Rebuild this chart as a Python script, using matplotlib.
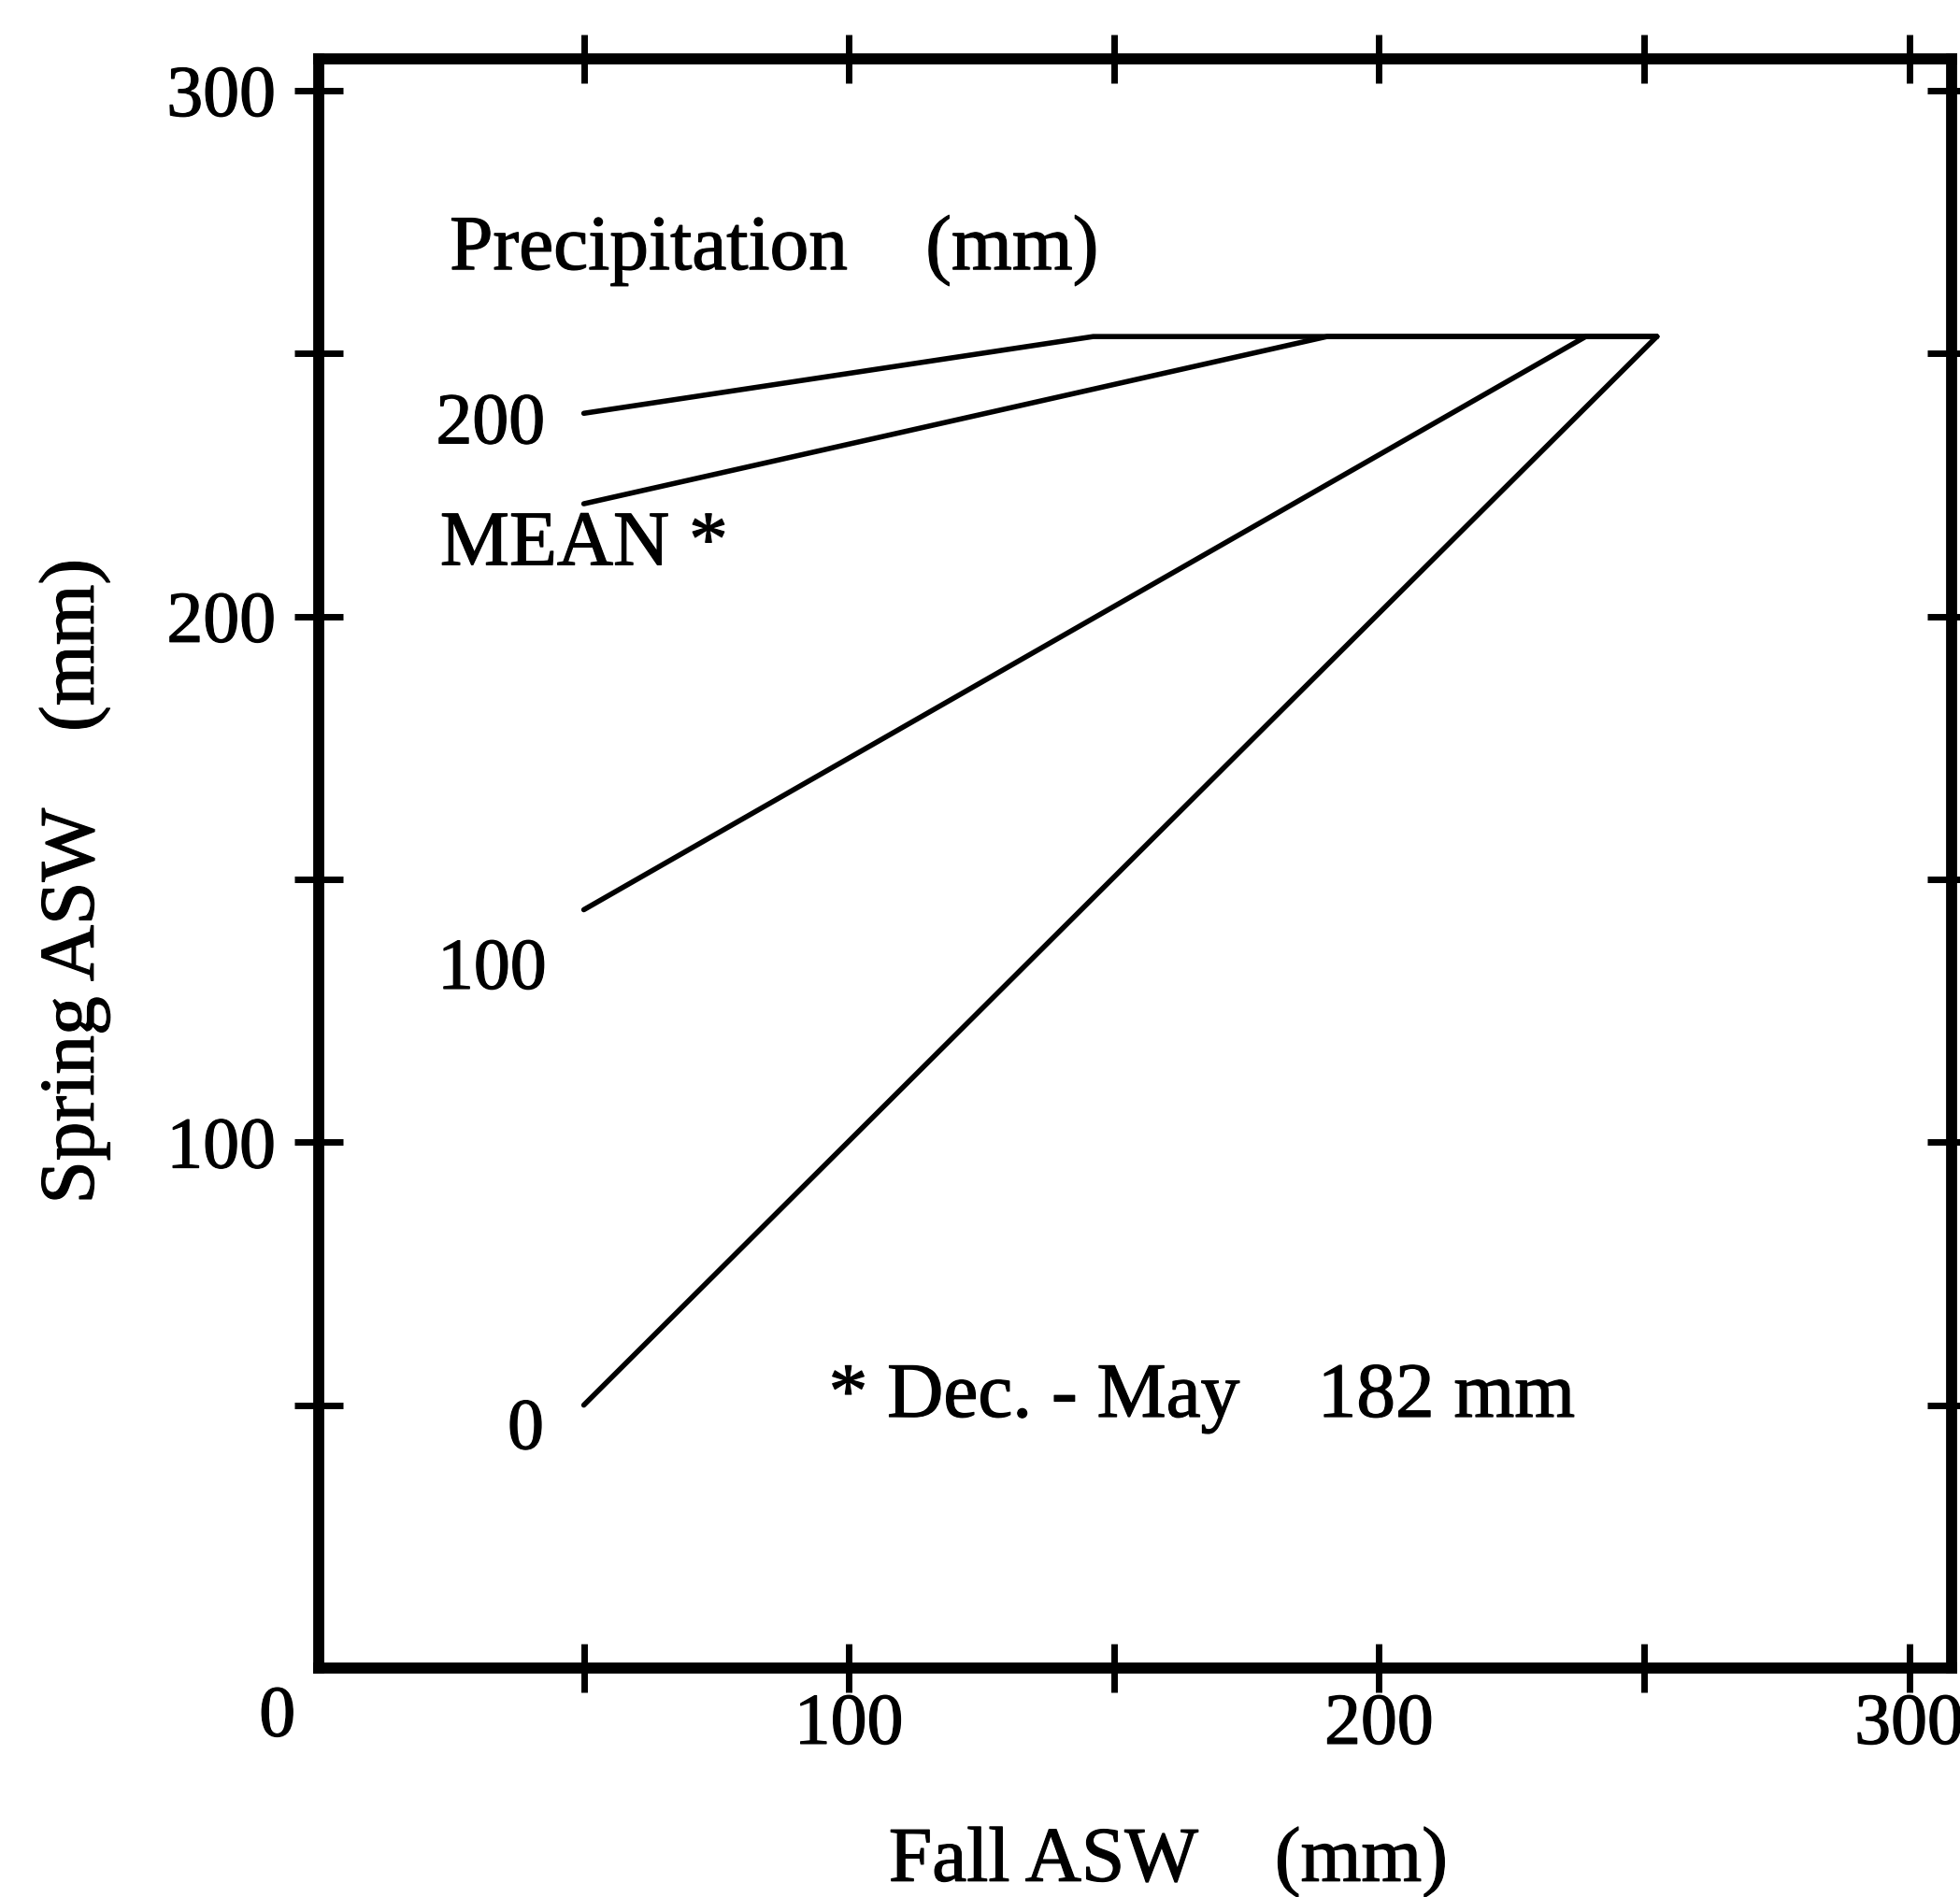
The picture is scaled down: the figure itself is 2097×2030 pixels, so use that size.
import matplotlib
matplotlib.use("Agg")
import matplotlib.pyplot as plt
import matplotlib.transforms as mtransforms
import matplotlib.patheffects as pe

plt.rcParams['font.family'] = ['Liberation Serif', 'DejaVu Serif']

# ---- data ----
series_names = ["0", "100", "MEAN *", "200"]
line_0_x = [50, 252.4]
line_0_y = [50, 253.2]
line_100_x = [50, 239.0, 252.4]
line_100_y = [144.2, 253.2, 253.2]
line_mean_x = [50, 190.2, 252.4]
line_mean_y = [221.4, 253.2, 253.2]
line_200_x = [50, 146.1, 252.4]
line_200_y = [238.6, 253.2, 253.2]

x_ticks = [50, 100, 150, 200, 250, 300]
x_ticklabels = ["", "100", "", "200", "", "300"]
y_ticks = [50, 100, 150, 200, 250, 300]
y_ticklabels = ["", "100", "", "200", "", "300"]

W, H = 2097, 2030
fig = plt.figure(figsize=(W / 100, H / 100), dpi=100)
left, right, top, bottom = 341, 2088, 63, 1785
ax = fig.add_axes([left / W, 1 - bottom / H, (right - left) / W, (bottom - top) / H])
ax.set_xlim(0, 308)
ax.set_ylim(0, 306)

bold = [pe.withStroke(linewidth=0.9, foreground="black")]

lw = 4.0
for xs, ys in [(line_0_x, line_0_y), (line_100_x, line_100_y),
               (line_mean_x, line_mean_y), (line_200_x, line_200_y)]:
    ax.plot(xs, ys, color="black", lw=lw, solid_capstyle="round",
            solid_joinstyle="miter", clip_on=False)

for s in ax.spines.values():
    s.set_linewidth(8.5)
    s.set_color("black")

ax.set_xticks(x_ticks)
ax.set_xticklabels(x_ticklabels)
ax.set_yticks(y_ticks)
ax.set_yticklabels(y_ticklabels)
ax.tick_params(direction="inout", length=38, width=5, top=True, right=True,
               labelsize=56, colors="black")
ax.tick_params(axis="x", pad=0)
ax.tick_params(axis="y", pad=14)
for lbl in ax.get_xticklabels() + ax.get_yticklabels():
    lbl.set_path_effects(bold)

# stray "0" x label left of the axis
trans = mtransforms.blended_transform_factory(ax.transData, fig.transFigure)
ax.text(-7.8, 1 - 1839 / H, "0", transform=trans, ha="center", va="center",
        fontsize=56, clip_on=False, path_effects=bold)

fs_num = 56
fs_txt = 60
ax.text(24.7, 266.0, "Precipitation    (mm)", fontsize=fs_txt, ha="left", va="baseline",
        path_effects=bold)
ax.text(42.7, 232.9, "200", fontsize=fs_num, ha="right", va="baseline", path_effects=bold)
ax.text(22.9, 209.8, "MEAN *", fontsize=fs_txt, ha="left", va="baseline", path_effects=bold)
ax.text(43.0, 129.2, "100", fontsize=fs_num, ha="right", va="baseline", path_effects=bold)
ax.text(42.5, 41.7, "0", fontsize=fs_num, ha="right", va="baseline", path_effects=bold)
ax.text(96.2, 47.8, "* Dec. - May    182 mm", fontsize=fs_txt, ha="left", va="baseline",
        path_effects=bold)

fig.text(1250 / W, 1 - 1993 / H, "Fall ASW    (mm)", fontsize=fs_txt, ha="center",
         va="center", path_effects=bold)
fig.text(80 / W, 1 - 943 / H, "Spring ASW    (mm)", fontsize=fs_txt, ha="center",
         va="center", rotation=90, path_effects=bold)

fig.savefig("out.png", dpi=100, facecolor="white")
